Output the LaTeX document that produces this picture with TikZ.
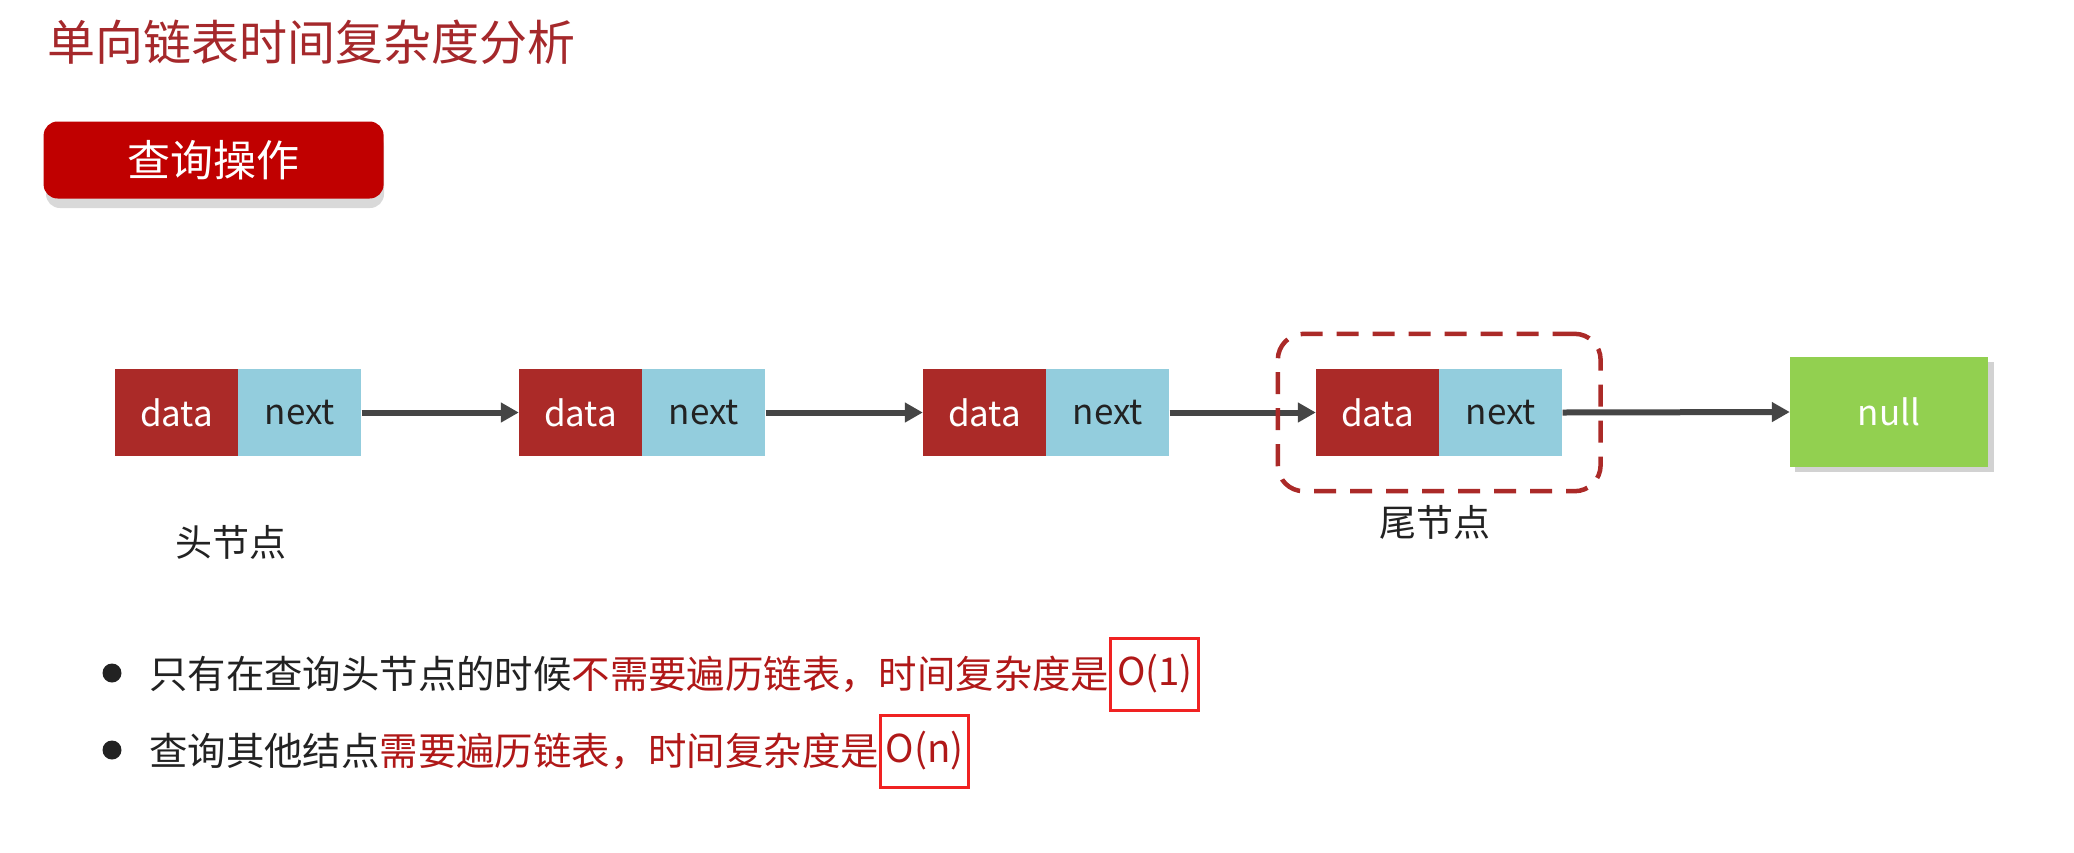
\documentclass[tikz,border=0pt]{standalone}
\usepackage{fontspec}
\setmainfont{Noto Sans CJK SC}
\usetikzlibrary{arrows.meta,fit,positioning}
\definecolor{titlered}{HTML}{A5282B}
\definecolor{btnred}{HTML}{C00000}
\definecolor{datared}{HTML}{AB2A28}
\definecolor{nextblue}{HTML}{93CDDD}
\definecolor{nullgreen}{HTML}{92D050}
\definecolor{arrowgray}{HTML}{454545}
\definecolor{txtred}{HTML}{B01818}
\definecolor{boxred}{HTML}{F02222}
\definecolor{txtdark}{HTML}{222222}
\tikzset{
  cell/.style={minimum width=123pt, minimum height=87pt, inner sep=0pt, font=\fontsize{35}{40}\selectfont},
  datacell/.style={cell, fill=datared, text=white},
  nextcell/.style={cell, fill=nextblue, text=txtdark},
  link/.style={draw=arrowgray, line width=6pt, -{Triangle[length=18pt,width=19pt]}},
  bodytext/.style={inner sep=0pt, font=\fontsize{38.4}{44}\selectfont, text=txtdark},
  obox/.style={draw=boxred, line width=3pt, minimum height=72pt, minimum width=88pt, inner xsep=3pt, inner ysep=0pt, text=txtred, font=\fontsize{38.4}{44}\selectfont},
  lbl/.style={inner sep=0pt, font=\fontsize{37}{42}\selectfont, text=txtdark},
}
\begin{document}
\begin{tikzpicture}[x=1pt,y=-1pt]
\useasboundingbox[fill=white] (0,0) rectangle (2074,852);
% title
\node[anchor=west, inner sep=0pt, text=titlered, font=\fontsize{48}{54}\selectfont] (title) at (47,42) {单向链表时间复杂度分析};
% button
\fill[gray!30, rounded corners=14pt] (46,132) rectangle (384,208);
\node[fill=btnred, rounded corners=14pt, minimum width=340pt, minimum height=77pt, inner sep=0pt, text=white, font=\fontsize{43}{48}\selectfont] (btn) at (213.6,160) {查询操作};
% list nodes
\node[datacell] (d1) at (176.5,412.5) {data};
\node[nextcell, anchor=west] (n1) at (d1.east) {next};
\node[datacell] (d2) at (580.5,412.5) {data};
\node[nextcell, anchor=west] (n2) at (d2.east) {next};
\node[datacell] (d3) at (984.5,412.5) {data};
\node[nextcell, anchor=west] (n3) at (d3.east) {next};
\node[datacell] (d4) at (1377.5,412.5) {data};
\node[nextcell, anchor=west] (n4) at (d4.east) {next};
\fill[gray!35] (1795,362) rectangle (1994,472);
\node[fill=nullgreen, minimum width=198pt, minimum height=110pt, inner sep=0pt, text=white, font=\fontsize{35}{40}\selectfont] (null) at (1889,412) {null};
% links
\draw[link] (n1.east) -- (d2.west);
\draw[link] (n2.east) -- (d3.west);
\draw[link] (n3.east) -- (d4.west);
\draw[link] (n4.east) -- (null.west);
% tail highlight
\node[draw=datared, line width=4.5pt, dash pattern=on 22pt off 14pt, rounded corners=26pt, inner xsep=38pt, inner ysep=35pt, fit=(d4)(n4)] (tailbox) {};
% labels
\node[lbl] (head) at (231,542) {头节点};
\node[lbl] (tail) at (1435,522) {尾节点};
% bullets
\fill[txtdark] (112,673) circle (9.5pt);
\fill[txtdark] (112,750) circle (9.5pt);
\node[bodytext, anchor=west] (t1) at (149,674) {只有在查询头节点的时候\textcolor{txtred}{不需要遍历链表，时间复杂度是}};
\node[obox, anchor=west] (o1) at (t1.east) {O(1)};
\node[bodytext, anchor=west] (t2) at (149,751) {查询其他结点\textcolor{txtred}{需要遍历链表，时间复杂度是}};
\node[obox, anchor=west] (o2) at (t2.east) {O(n)};
\end{tikzpicture}
\end{document}
